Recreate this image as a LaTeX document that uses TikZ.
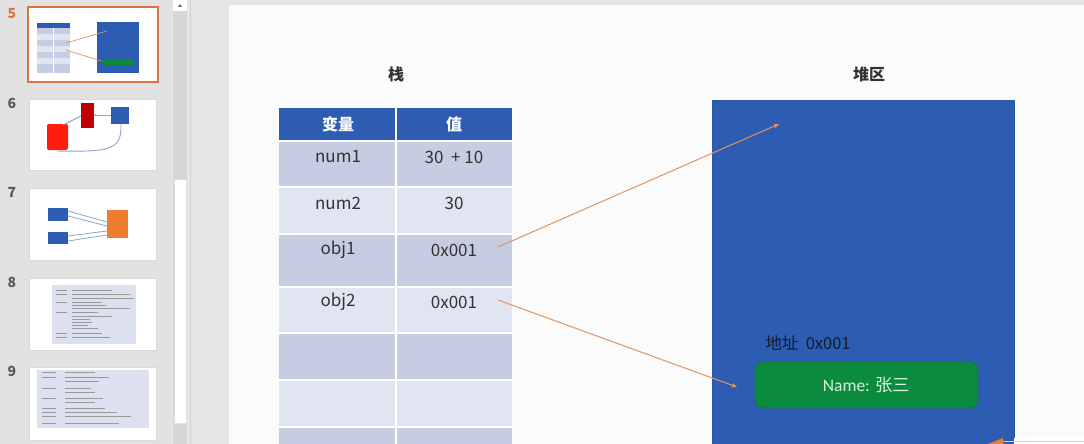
\documentclass[tikz,border=0pt]{standalone}
\usepackage{fontspec}
\setmainfont{Noto Sans CJK SC}
\newfontfamily\latfont{Carlito}
\usetikzlibrary{arrows.meta}
\definecolor{uigray}{HTML}{E6E6E6}
\definecolor{panelgray}{HTML}{E2E2E2}
\definecolor{trackgray}{HTML}{D6D6D6}
\definecolor{slidewhite}{HTML}{FBFBFB}
\definecolor{hdrblue}{HTML}{2E5CB2}
\definecolor{heapblue}{HTML}{2C5DB3}
\definecolor{rowdark}{HTML}{C6CCE1}
\definecolor{rowlight}{HTML}{E1E5F1}
\definecolor{linkorange}{HTML}{E09463}
\definecolor{namegreen}{HTML}{0B8B3D}
\definecolor{namegreenb}{HTML}{1E6E45}
\definecolor{nametext}{HTML}{D5F2DA}
\definecolor{addrtext}{HTML}{121A2E}
\definecolor{selorange}{HTML}{DA7442}
\definecolor{thumbred}{HTML}{FF1E0E}
\definecolor{thumbdred}{HTML}{C00000}
\definecolor{thumborange}{HTML}{ED7D31}
\definecolor{thumbline}{HTML}{8FA3C9}
\definecolor{thumbtab}{HTML}{DDE1EF}
\tikzset{
  celltext/.style={font=\fontsize{17}{17}\selectfont, text=black!80},
  hdrtext/.style={font=\fontsize{16}{16}\selectfont\bfseries, text=white},
  titletext/.style={font=\fontsize{16}{16}\selectfont\bfseries, text=black!80},
  link/.style={draw=linkorange, line width=1pt, -{Triangle[length=5pt,width=4pt]}},
  thumbframe/.style={fill=white, draw=black!15, line width=0.6pt},
  numtext/.style={font=\fontsize{14}{14}\selectfont\bfseries, text=black!65},
  thumbmark/.style={draw=black!40, line width=0.7pt},
}
\begin{document}
\begin{tikzpicture}[x=1pt,y=-1pt]
\useasboundingbox (0,0) rectangle (1084,444);
\fill[uigray] (0,0) rectangle (1084,444);
% ---- thumbnail panel
\fill[panelgray] (0,0) rectangle (172,444);
\fill[trackgray] (173,0) rectangle (187,444);
\fill[white] (173,0) rectangle (187,11);
\fill[black!60] (178,7) -- (182,7) -- (180,4) -- cycle;
\fill[white, draw=black!12] (174,179) rectangle (186,423);
\draw[black!18, line width=0.8pt] (190,0) -- (190,444);
% slide numbers
\node[numtext, text=selorange] (n5) at (12,14) {5};
\node[numtext] (n6) at (12,103) {6};
\node[numtext] (n7) at (12,192) {7};
\node[numtext] (n8) at (12,282) {8};
\node[numtext] (n9) at (12,371) {9};
% thumb 5
\fill[white, draw=selorange, line width=1.6pt] (28,7) rectangle (158,82);
\fill[hdrblue] (37,23) rectangle (70,28);
\foreach \ya/\yb/\c in {28/34/rowdark,34/40/rowlight,40/46/rowdark,46/52/rowlight,52/58/rowdark,58/64/rowlight,64/73/rowdark}
  \fill[\c] (37,\ya) rectangle (70,\yb);
\draw[white, line width=0.3pt] (53.5,28) -- (53.5,73);
\fill[heapblue] (97,22) rectangle (139,73);
\fill[namegreen, rounded corners=1.5pt] (102,59) rectangle (134,65);
\draw[linkorange, line width=0.7pt] (66,43) -- (107,31);
\draw[linkorange, line width=0.7pt] (66,50) -- (101,61);
% thumb 6
\fill[thumbframe] (29,99) rectangle (156,170);
\fill[thumbred, rounded corners=2pt] (47,124) rectangle (68,150);
\fill[thumbdred] (81,103) rectangle (94,128);
\fill[hdrblue] (111,107) rectangle (129,124);
\draw[thumbline, line width=0.9pt] (63,125) -- (81,116);
\draw[thumbline, line width=0.9pt, -{Triangle[length=2pt,width=2pt]}] (111,115) -- (94,115);
\draw[thumbline, line width=0.9pt] (121,124) .. controls (122,150) and (110,152) .. (57,151);
% thumb 7
\fill[thumbframe] (29,188) rectangle (156,260);
\fill[hdrblue] (48,208) rectangle (68,221);
\fill[hdrblue] (48,232) rectangle (68,244);
\fill[thumborange] (107,210) rectangle (128,238);
\draw[thumbline, line width=0.8pt] (68,211) -- (107,222);
\draw[thumbline, line width=0.8pt] (68,216) -- (107,226);
\draw[thumbline, line width=0.8pt] (68,236) -- (107,231);
\draw[thumbline, line width=0.8pt] (68,241) -- (107,235);
% thumb 8
\fill[thumbframe] (29,278) rectangle (156,350);
\fill[thumbtab] (52,285) rectangle (136,344);
\foreach \yy/\len in {290/40,294/58,298/62,302/30,305/34,308/58,312/26,316/40,319/18,322/20,325/16,328/26,333/30,337/38}
  \draw[thumbmark] (72,\yy) -- ++(\len,0);
\foreach \yy in {290,294,302,312,333,337}
  \draw[thumbmark] (56,\yy) -- ++(11,0);
% thumb 9
\fill[thumbframe] (29,367) rectangle (156,440);
\fill[thumbtab] (37,370) rectangle (149,428);
\foreach \yy/\len in {372/30,377/44,381/34,388/26,392/30,398/38,402/30,408/40,412/52,416/66,423/54}
  \draw[thumbmark] (65,\yy) -- ++(\len,0);
\foreach \yy in {372,377,388,398,408,412,416,423}
  \draw[thumbmark] (42,\yy) -- ++(14,0);
% ---- slide
\fill[black!10] (228,4) rectangle (1084,444);
\fill[slidewhite] (229,5) rectangle (1084,444);
% titles
\node[titletext] (stack) at (396,74) {栈};
\node[titletext] (heaptitle) at (869,74) {堆区};
% table
\fill[hdrblue] (279,108) rectangle (512,141);
\foreach \ya/\yb/\c in {141/187/rowdark,187/234/rowlight,234/287/rowdark,287/333/rowlight,333/380/rowdark,380/427/rowlight,427/444/rowdark}
  \fill[\c] (279,\ya) rectangle (512,\yb);
\foreach \yy in {141,187,234,287,333,380,427}
  \draw[white, line width=1.5pt] (279,\yy) -- (512,\yy);
\draw[white, line width=1.5pt] (396,108) -- (396,444);
\node[hdrtext] (h1) at (338,124) {变量};
\node[hdrtext] (h2) at (454,124) {值};
\node[celltext] (k1) at (338,157) {num1};
\node[celltext] (v1) at (454,157) {30\ \ + 10};
\node[celltext] (k2) at (338,203) {num2};
\node[celltext] (v2) at (454,203) {30};
\node[celltext] (k3) at (338,250) {obj1};
\node[celltext] (v3) at (454,250) {0x001};
\node[celltext] (k4) at (338,302) {obj2};
\node[celltext] (v4) at (454,302) {0x001};
% heap
\fill[heapblue] (712,100) rectangle (1014,444);
\draw[black!8!heapblue, line width=0.8pt] (712,444) -- (712,100) -- (1014,100) -- (1014,444);
\node[font=\fontsize{16.5}{16.5}\selectfont, text=addrtext] (addr) at (808,343) {地址\ \ 0x001};
\node[fill=namegreen, draw=namegreenb, line width=0.8pt, rounded corners=8pt,
      minimum width=223pt, minimum height=46pt, text=nametext,
      font=\latfont\fontsize{17.5}{17.5}\selectfont] (name) at (866.5,385) {Name: {\fontspec{Noto Sans CJK SC}张三}};
% connectors
\coordinate (s1) at (498,247);
\coordinate (e1) at (779,124);
\coordinate (s2) at (498,300);
\coordinate (e2) at (737,387);
\draw[link] (s1) -- (e1);
\draw[link] (s2) -- (e2);
% bottom-right fragment
\fill[white] (1014,438) rectangle (1084,444);
\draw[black!20, line width=0.6pt] (1000,441) -- (1084,441);
\fill[thumborange] (988,444) -- (1003,438) -- (1003,444) -- cycle;
\end{tikzpicture}
\end{document}
